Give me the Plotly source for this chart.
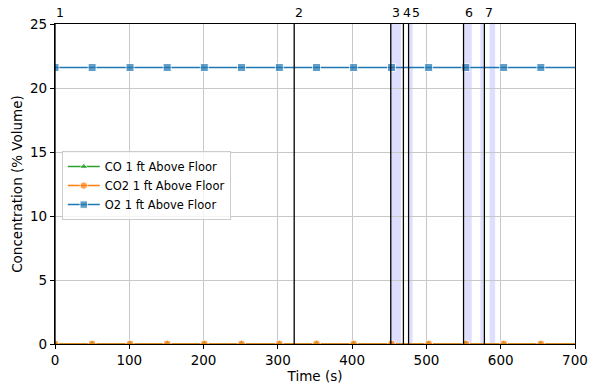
import plotly.graph_objects as go

# Data
marker_times = [0, 50, 101, 151, 201, 251, 302, 352, 402, 453, 503, 553, 604, 654]
times = marker_times + [700]
o2_values = [21.6] * len(times)
co_values = [0.0] * len(times)
co2_values = [0.0] * len(times)

event_times = [0, 322, 452, 469, 476, 550, 578]
event_labels = ["1", "2", "3", "4", "5", "6", "7"]
shade_starts = [452, 477.5, 551.5, 572.5, 585]
shade_ends = [466, 481.5, 561, 576.5, 592.5]

msize = [8] * len(marker_times) + [0]

fig = go.Figure()
fig.add_trace(go.Scatter(x=times, y=co_values, mode="lines+markers", name="CO 1 ft Above Floor",
                         line=dict(color="#2ca02c", width=1.5),
                         marker=dict(symbol="triangle-up", size=msize, color="#2ca02c")))
fig.add_trace(go.Scatter(x=times, y=co2_values, mode="lines+markers", name="CO2 1 ft Above Floor",
                         line=dict(color="#ff7f0e", width=1.5),
                         marker=dict(symbol="circle", size=msize, color="#ff7f0e")))
fig.add_trace(go.Scatter(x=times, y=o2_values, mode="lines+markers", name="O2 1 ft Above Floor",
                         line=dict(color="#1f77b4", width=1.5),
                         marker=dict(symbol="square", size=msize, color="#1f77b4")))

shapes = []
for s, e in zip(shade_starts, shade_ends):
    shapes.append(dict(type="rect", xref="x", yref="paper", x0=s, x1=e, y0=0, y1=1,
                       fillcolor="rgba(0,0,255,0.13)", line=dict(width=0), layer="below"))
annotations = []
label_shift = {"4": -2, "5": 1}
for t, lab in zip(event_times, event_labels):
    shapes.append(dict(type="line", xref="x", yref="paper", x0=t, x1=t, y0=0, y1=1,
                       line=dict(color="black", width=1.3), layer="above"))
    annotations.append(dict(x=t, y=1, xref="x", yref="paper", text=lab, showarrow=False,
                            xanchor="left", yanchor="bottom", yshift=2,
                            xshift=label_shift.get(lab, -1),
                            font=dict(size=12.5, color="black")))

fig.update_layout(
    width=596, height=389,
    margin=dict(l=55, r=21, t=24, b=45),
    paper_bgcolor="white", plot_bgcolor="white",
    font=dict(family="DejaVu Sans", size=13, color="black"),
    shapes=shapes, annotations=annotations,
    showlegend=True,
    legend=dict(x=0.013, y=0.495, xanchor="left", yanchor="middle",
                bgcolor="rgba(255,255,255,0.8)", bordercolor="#cccccc", borderwidth=1,
                font=dict(size=11.5), tracegroupgap=0, itemwidth=32),
)
fig.update_xaxes(range=[0, 700], tickvals=[0, 100, 200, 300, 400, 500, 600, 700],
                 tickfont=dict(size=13.5),
                 showgrid=True, gridcolor="#c8c8c8", gridwidth=1, automargin=False,
                 showline=True, linecolor="black", linewidth=1.2, mirror=True,
                 ticks="outside", ticklen=4, tickcolor="black", zeroline=False,
                 title=dict(text="Time (s)", standoff=0, font=dict(size=13.5)))
fig.update_yaxes(range=[0, 25], tickvals=[0, 5, 10, 15, 20, 25],
                 tickfont=dict(size=13.5),
                 showgrid=True, gridcolor="#c8c8c8", gridwidth=1, automargin=False,
                 showline=True, linecolor="black", linewidth=1.2, mirror=True,
                 ticks="outside", ticklen=4, tickcolor="black", zeroline=False,
                 title=dict(text="Concentration (% Volume)", standoff=4, font=dict(size=13.5)))

fig.write_html("out.html", config={"displayModeBar": False},
               post_script="document.body.style.margin='0px';")
